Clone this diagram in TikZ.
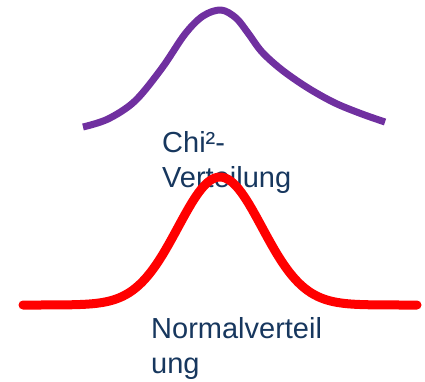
\documentclass[tikz,border=0pt]{standalone}
\usepackage{fontspec}
\setmainfont{Liberation Sans}
\definecolor{chipurple}{HTML}{7030A0}
\definecolor{labelblue}{HTML}{17375E}
\begin{document}
\begin{tikzpicture}[x=1pt,y=-1pt,
  lbl/.style={text=labelblue,font=\fontsize{29}{35}\selectfont,align=left,inner sep=0pt,anchor=base west},
  chicurve/.style={draw=chipurple,line width=7pt,line join=round},
  normcurve/.style={draw=red,line width=9pt,line cap=round,line join=round}]
\useasboundingbox (0,0) rectangle (425,381);
\draw[chicurve] plot[smooth,tension=0.55] coordinates {(83,127) (108,119) (135,101) (162,68) (185,34) (203,16) (221,10) (236,18) (248,33) (262,52) (282,70) (308,88) (335,103) (362,114) (385,122)};
\node[lbl] (chi) at (162,187) {Chi²-\\Verteilung};
\draw[normcurve] plot[domain=23:417,samples=120] (\x,{305-128*exp(-((\x-220)/42)^2/2)});
\node[lbl] (norm) at (151,373) {Normalverteil\\ung};
\end{tikzpicture}
\end{document}
